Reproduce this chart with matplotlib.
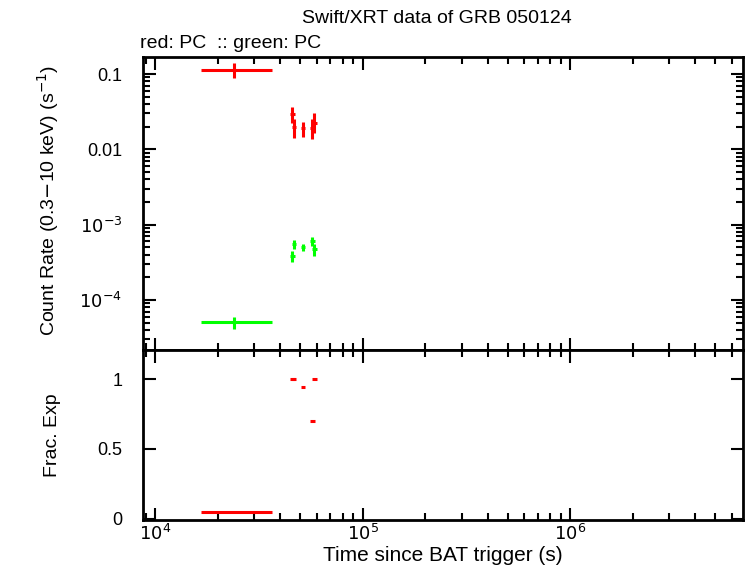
import matplotlib.pyplot as plt
from matplotlib.ticker import FixedLocator, NullFormatter, LogLocator
import numpy as np

plt.rcParams['font.family'] = ['Liberation Sans', 'DejaVu Sans']

# =========================
# Dados (PC)
# =========================
t_red = [24000, 45900, 46900, 51800, 57300, 58600]
t_lo_red = [16700, 44800, 45800, 50600, 56000, 57200]
t_hi_red = [36600, 47000, 48000, 53000, 58700, 60000]
rate_red = [0.112, 0.0294, 0.0196, 0.0190, 0.0190, 0.0225]
rate_lo_red = [0.0885, 0.0221, 0.01426, 0.0147, 0.0136, 0.0166]
rate_hi_red = [0.139, 0.0368, 0.0252, 0.0231, 0.0252, 0.0303]

t_green = [24000, 45900, 46900, 51800, 57300, 58600]
rate_green = [5.06e-5, 3.87e-4, 5.53e-4, 5.05e-4, 6.01e-4, 4.75e-4]
rate_lo_green = [4.12e-5, 3.15e-4, 4.75e-4, 4.42e-4, 5.15e-4, 3.87e-4]
rate_hi_green = [5.89e-5, 4.42e-4, 6.33e-4, 5.6e-4, 6.87e-4, 5.6e-4]

frac_exp = [0.045, 1.0, 1.0, 0.947, 0.703, 1.0]

RED = '#ff0000'
GREEN = '#00ff00'


def xerr(t, lo, hi):
    return [np.array(t) - np.array(lo), np.array(hi) - np.array(t)]


def yerr(v, lo, hi):
    return [np.array(v) - np.array(lo), np.array(hi) - np.array(v)]


fig = plt.figure(figsize=(7.46, 5.68), dpi=100)
ax1 = fig.add_axes([0.1917, 0.3838, 0.8043, 0.5158])
ax2 = fig.add_axes([0.1917, 0.0845, 0.8043, 0.2993], sharex=ax1)

# =========================
# Painel superior
# =========================
ax1.errorbar(t_red, rate_red, xerr=xerr(t_red, t_lo_red, t_hi_red),
             yerr=yerr(rate_red, rate_lo_red, rate_hi_red),
             fmt='none', ecolor=RED, elinewidth=2.2, capsize=0)
ax1.errorbar(t_green, rate_green, xerr=xerr(t_green, t_lo_red, t_hi_red),
             yerr=yerr(rate_green, rate_lo_green, rate_hi_green),
             fmt='none', ecolor=GREEN, elinewidth=2.2, capsize=0)

ax1.set_xscale('log')
ax1.set_yscale('log')
ax1.set_xlim(8750, 6.8e6)
ax1.set_ylim(2.17e-5, 0.168)
ax1.set_yticks([1e-4, 1e-3, 1e-2, 1e-1])
ax1.set_yticklabels([r'$10^{-4}$', r'$10^{-3}$', '0.01', '0.1'])
ax1.yaxis.set_minor_locator(LogLocator(base=10, subs=np.arange(2, 10)))
ax1.yaxis.set_minor_formatter(NullFormatter())
ax1.set_ylabel('Count Rate (0.3$-$10 keV) (s$^{-1}$)', fontsize=14)
ax1.yaxis.set_label_coords(-0.137, 0.51)
plt.setp(ax1.get_xticklabels(), visible=False)

# =========================
# Painel inferior
# =========================
ax2.errorbar(t_red, frac_exp, xerr=xerr(t_red, t_lo_red, t_hi_red),
             fmt='none', ecolor=RED, elinewidth=2.2, capsize=0)
ax2.set_ylim(-0.01, 1.21)
ax2.set_yticks([0, 0.5, 1])
ax2.set_yticklabels(['0', '0.5', '1'])
ax2.yaxis.set_minor_locator(FixedLocator([]))
ax2.set_ylabel('Frac. Exp', fontsize=14)
ax2.yaxis.set_label_coords(-0.137, 0.5)
ax2.set_xlabel('Time since BAT trigger (s)', fontsize=15, labelpad=1)
ax2.set_xticks([1e4, 1e5, 1e6])
ax2.set_xticklabels([r'$10^{4}$', r'$10^{5}$', r'$10^{6}$'])
ax2.xaxis.set_minor_locator(LogLocator(base=10, subs=np.arange(2, 10)))
ax2.xaxis.set_minor_formatter(NullFormatter())

for ax in (ax1, ax2):
    for s in ax.spines.values():
        s.set_linewidth(2)
    ax.tick_params(which='both', direction='in', top=True, right=True,
                   labelsize=13, width=1.5)
    ax.tick_params(which='major', length=9)
    ax.tick_params(which='minor', length=5)
    ax.tick_params(axis='x', pad=3)
    ax.tick_params(axis='y', pad=15)

fig.text(0.586, 0.968, 'Swift/XRT data of GRB 050124', ha='center', va='center',
         fontsize=14)
fig.text(0.1877, 0.924, 'red: PC  :: green: PC', ha='left', va='center',
         fontsize=14)

fig.savefig('out.png', dpi=100)
